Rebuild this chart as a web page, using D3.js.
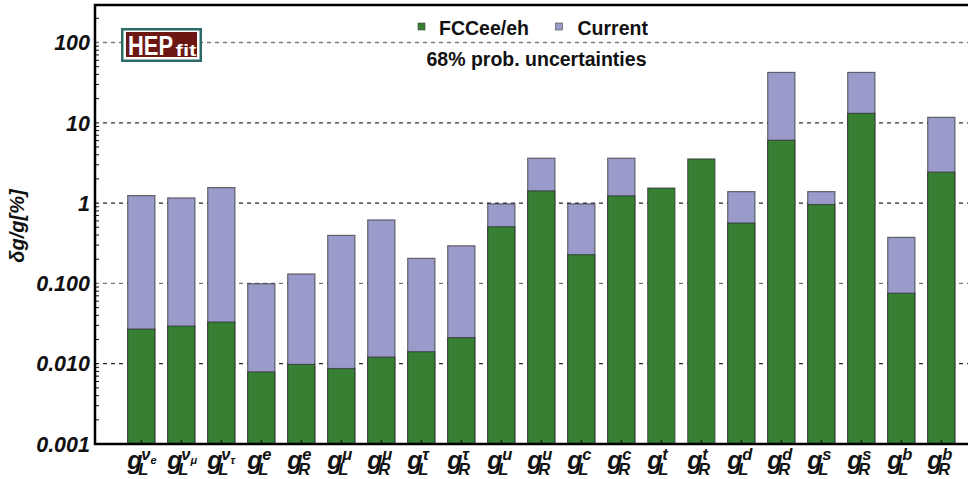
<!DOCTYPE html>
<html>
<head>
<meta charset="utf-8">
<script src="https://cdn.jsdelivr.net/npm/d3@7"></script>
<style>
  body { margin: 0; background: #fff; }
  svg { display: block; font-family: "Liberation Sans", Arial, sans-serif; }
</style>
</head>
<body>
<svg id="chart" width="968" height="479"></svg>
<script>
// couplings: subscript (L/R), superscript (flavour), neutrino sub-index
const subs   = ['L','L','L','L','R','L','R','L','R','L','R','L','R','L','R','L','R','L','R','L','R'];
const sups   = ['ν','ν','ν','e','e','μ','μ','τ','τ','u','u','c','c','t','t','d','d','s','s','b','b'];
const nuIdx  = ['e','μ','τ','','','','','','','','','','','','','','','','','',''];
const fcc    = [0.027, 0.0294, 0.033, 0.0079, 0.0098, 0.0087, 0.0121, 0.0141, 0.0211, 0.508, 1.42,
                0.228, 1.23, 1.54, 3.55, 0.565, 6.06, 0.96, 13.1, 0.0753, 2.43];
const current = [1.24, 1.16, 1.56, 0.099, 0.131, 0.396, 0.617, 0.205, 0.294, 0.98, 3.62,
                 0.98, 3.62, null, null, 1.39, 42.4, 1.39, 42.4, 0.374, 11.7];
const yTicks = [0.001, 0.01, 0.1, 1, 10, 100];
const yTickLabels = ['0.001', '0.010', '0.100', '1', '10', '100'];

(function () {
const GREEN = '#367f33', PURPLE = '#9a9acb';
const svg = d3.select('#chart');
const left = 95, right = 968, plotTop = 5, bottom = 444;
const ids = d3.range(subs.length);

const x = d3.scaleBand().domain(ids).range([121.3, 961.3]).paddingInner(0.32).paddingOuter(0.16);
const y = d3.scaleLog().domain([0.001, 293]).range([bottom, plotTop]);

// dashed grid (0.1 and 100 come out lighter in the original)
const gridCol = ['#222', '#777', '#222', '#333', '#777'];
svg.append('g').selectAll('line')
  .data(yTicks.slice(1))
  .join('line')
  .attr('x1', left).attr('x2', right)
  .attr('y1', d => y(d)).attr('y2', d => y(d))
  .attr('stroke', (d, i) => gridCol[i])
  .attr('stroke-width', 1.3)
  .attr('stroke-dasharray', '4,4');

// bars
const bars = svg.append('g');
function drawBars(vals, fill) {
  bars.append('g').selectAll('rect')
    .data(ids.filter(i => vals[i] != null))
    .join('rect')
    .attr('x', i => x(i))
    .attr('width', x.bandwidth())
    .attr('y', i => y(vals[i]))
    .attr('height', i => bottom - y(vals[i]))
    .attr('fill', fill)
    .attr('stroke', '#2a2a2a')
    .attr('stroke-opacity', 0.65)
    .attr('stroke-width', 1.2);
}
drawBars(current, PURPLE);
drawBars(fcc, GREEN);

// y axis minor ticks
const minors = [];
yTicks.slice(0, -1).forEach(d => { for (let k = 2; k <= 9; k++) minors.push(d * k); });
minors.push(200);
svg.append('g').selectAll('line')
  .data(minors.filter(v => y(v) > plotTop))
  .join('line')
  .attr('x1', left).attr('x2', left + 4)
  .attr('y1', d => y(d)).attr('y2', d => y(d))
  .attr('stroke', '#111').attr('stroke-width', 1);

// bottom ticks
svg.append('g').selectAll('line')
  .data(ids)
  .join('line')
  .attr('x1', i => x(i) + x.bandwidth() / 2).attr('x2', i => x(i) + x.bandwidth() / 2)
  .attr('y1', bottom).attr('y2', bottom - 4)
  .attr('stroke', '#111').attr('stroke-width', 1.2);

// frame
svg.append('path')
  .attr('d', `M${right},${plotTop}H${left}V${bottom}H${right}`)
  .attr('fill', 'none').attr('stroke', '#000').attr('stroke-width', 2.5);

// y tick labels
svg.append('g').selectAll('text')
  .data(yTicks)
  .join('text')
  .attr('x', 90).attr('y', d => y(d))
  .attr('dy', '0.36em')
  .attr('text-anchor', 'end')
  .attr('font-size', 21.5).attr('font-weight', 'bold').attr('font-style', 'italic')
  .attr('fill', '#111')
  .text((d, i) => yTickLabels[i]);

// y title
svg.append('text')
  .attr('transform', 'translate(24,226) rotate(-90)')
  .attr('text-anchor', 'middle')
  .attr('font-size', 20).attr('font-weight', 'bold').attr('font-style', 'italic')
  .attr('fill', '#111')
  .text('δg/g[%]');

// x labels: g with stacked subscript / superscript in one text element
const xl = svg.append('g').attr('font-weight', 'bold').attr('font-style', 'italic').attr('fill', '#111');
ids.forEach(i => {
  const c = x(i) + x.bandwidth() / 2;
  const t = xl.append('text').attr('y', 469);
  t.append('tspan').attr('x', c - 14).attr('font-size', 25).text('g');
  t.append('tspan').attr('x', c - 3).attr('y', 475).attr('font-size', 16.5).text(subs[i]);
  t.append('tspan').attr('x', c + (nuIdx[i] ? 0 : 1)).attr('y', 460).attr('font-size', 16.5).text(sups[i]);
  if (nuIdx[i]) t.append('tspan').attr('dy', 4).attr('font-size', 11).text(nuIdx[i]);
});

// legend
const legend = [['FCCee/eh', GREEN, 418, 439], ['Current', PURPLE, 555.5, 577.5]];
legend.forEach(([name, col, sx, tx]) => {
  svg.append('rect').attr('x', sx).attr('y', 23).attr('width', 7).attr('height', 7)
    .attr('fill', col).attr('stroke', '#444').attr('stroke-width', 0.6);
  svg.append('text').attr('x', tx).attr('y', 35)
    .attr('font-size', 19.5).attr('font-weight', 'bold').attr('fill', '#111').text(name);
});
svg.append('text').attr('x', 536.5).attr('y', 66).attr('text-anchor', 'middle')
  .attr('font-size', 19.5).attr('font-weight', 'bold').attr('fill', '#111')
  .text('68% prob. uncertainties');

// HEPfit logo
const logo = svg.append('g');
logo.append('rect').attr('x', 121).attr('y', 28).attr('width', 81).attr('height', 34).attr('fill', '#2d6b6a');
logo.append('rect').attr('x', 123.5).attr('y', 30.5).attr('width', 76).attr('height', 29).attr('fill', '#fff');
logo.append('rect').attr('x', 126).attr('y', 32).attr('width', 71).attr('height', 25).attr('fill', '#6b1712');
const lt = logo.append('text').attr('font-weight', 'bold').attr('fill', '#fff');
lt.append('tspan').attr('x', 128).attr('y', 55).attr('font-size', 27)
  .attr('textLength', 45).attr('lengthAdjust', 'spacingAndGlyphs').text('HEP');
lt.append('tspan').attr('x', 175.5).attr('y', 55.5).attr('font-size', 16)
  .attr('textLength', 21).attr('lengthAdjust', 'spacingAndGlyphs').text('fit');
})();
</script>
</body>
</html>
